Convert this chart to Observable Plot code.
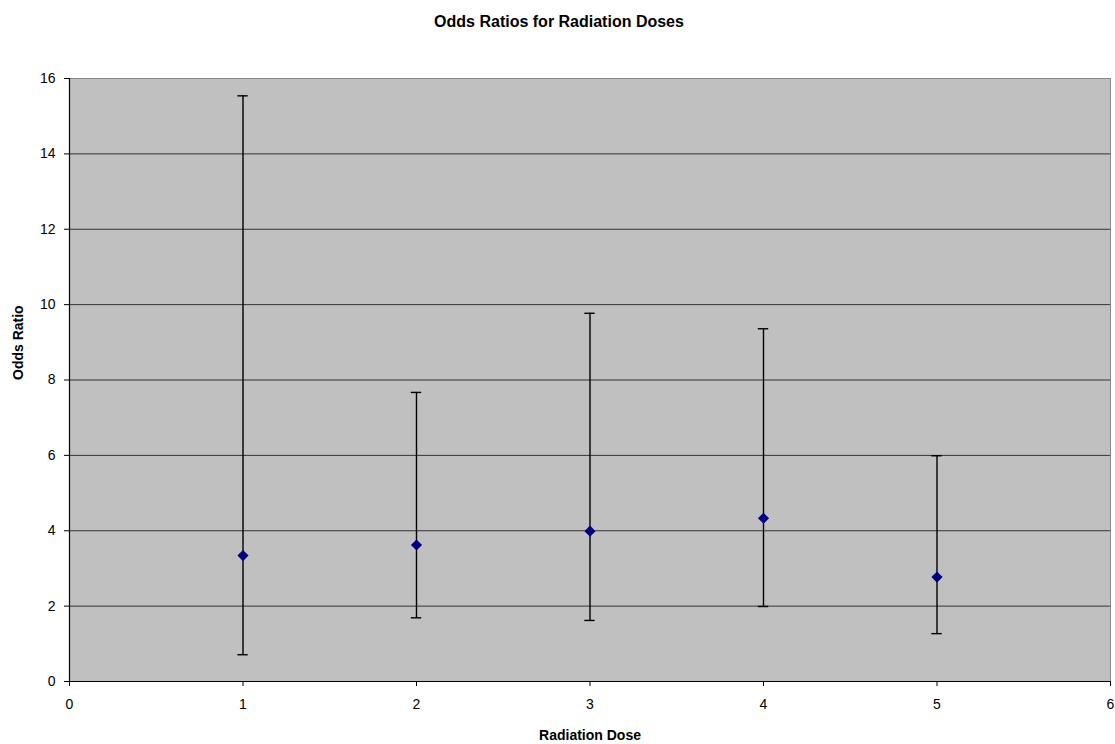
<!DOCTYPE html>
<html>
<head>
<meta charset="utf-8">
<script src="https://cdn.jsdelivr.net/npm/d3@7"></script>
<script src="https://cdn.jsdelivr.net/npm/@observablehq/plot@0.6"></script>
<style>
  body { margin: 0; background: white; }
</style>
</head>
<body>
<div id="chart"></div>
<script>
const doses = [1, 2, 3, 4, 5];
const oddsRatio = [3.34, 3.62, 3.99, 4.33, 2.77];
const lowerCI = [0.71, 1.69, 1.62, 1.99, 1.27];
const upperCI = [15.54, 7.67, 9.77, 9.36, 5.99];
const xTicks = [0, 1, 2, 3, 4, 5, 6];
const yTicks = [0, 2, 4, 6, 8, 10, 12, 14, 16];
const title = "Odds Ratios for Radiation Doses";
const xLabel = "Radiation Dose";
const yLabel = "Odds Ratio";

const data = doses.map((d, i) => ({dose: d, or: oddsRatio[i], lo: lowerCI[i], hi: upperCI[i]}));
const capHalf = 0.03;

const chart = Plot.plot({
  width: 1115,
  height: 744,
  marginLeft: 69,
  marginRight: 5,
  marginTop: 78,
  marginBottom: 63,
  style: {fontFamily: "'Liberation Sans', Arial, sans-serif", fontSize: "14px", background: "white", color: "black"},
  x: {domain: [0, 6]},
  y: {domain: [0, 16]},
  marks: [
    Plot.frame({fill: "#c0c0c0", stroke: "#8a8a8a"}),
    Plot.gridY(yTicks.filter(t => t > 0 && t < 16), {stroke: "#333", strokeOpacity: 1, strokeWidth: 1}),
    Plot.ruleY([0], {stroke: "#000", strokeWidth: 1.2}),
    Plot.ruleX([0], {stroke: "#000", strokeWidth: 1.2}),
    Plot.axisX(xTicks, {tickSize: 5, tickPadding: 13, tickFormat: d => String(d), label: null, fontSize: 14, stroke: "#000"}),
    Plot.axisY(yTicks, {tickSize: 5, tickPadding: 9, tickFormat: d => String(d), label: null, fontSize: 14, stroke: "#000"}),
    Plot.ruleX(data, {x: "dose", y1: "lo", y2: "hi", stroke: "#000", strokeWidth: 1.4}),
    Plot.ruleY(data, {y: "hi", x1: d => d.dose - capHalf, x2: d => d.dose + capHalf, stroke: "#000", strokeWidth: 1.4}),
    Plot.ruleY(data, {y: "lo", x1: d => d.dose - capHalf, x2: d => d.dose + capHalf, stroke: "#000", strokeWidth: 1.4}),
    Plot.dot(data, {x: "dose", y: "or", symbol: "diamond2", r: 5, fill: "#000080", stroke: "none"}),
    Plot.text([title], {frameAnchor: "top", dx: -31, dy: -57, fontWeight: "bold", fontSize: 16, lineAnchor: "middle", fill: "#000"}),
    Plot.text([xLabel], {frameAnchor: "bottom", dy: 54, fontWeight: "bold", fontSize: 14, lineAnchor: "middle", fill: "#000"}),
    Plot.text([yLabel], {frameAnchor: "left", dx: -51, rotate: -90, fontWeight: "bold", fontSize: 14, lineAnchor: "middle", fill: "#000"})
  ]
});
document.getElementById("chart").appendChild(chart);
</script>
</body>
</html>
